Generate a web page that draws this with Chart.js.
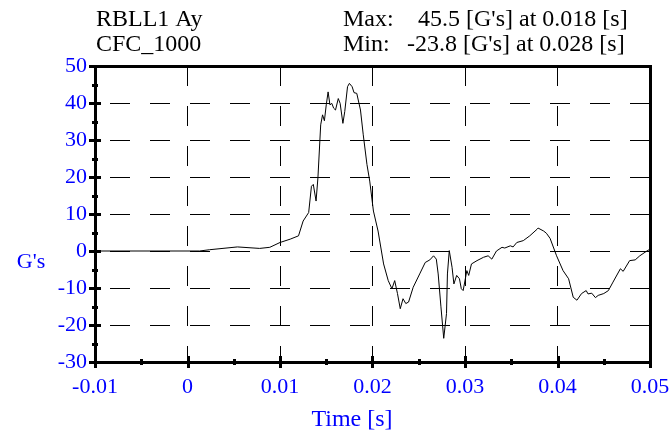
<!DOCTYPE html>
<html>
<head>
<meta charset="utf-8">
<script src="https://cdn.jsdelivr.net/npm/chart.js@4.4.1/dist/chart.umd.min.js"></script>
<style>
  html, body { margin: 0; padding: 0; background: #fff; }
  #wrap { width: 671px; height: 435px; }
</style>
</head>
<body>
<div id="wrap"><canvas id="myChart" width="671" height="435"></canvas></div>
<script>
// signal: time [s] and acceleration [G's]
const times = [
  -0.01, 0.0013, 0.0024, 0.0054, 0.0078, 0.0089, 0.0100, 0.0111, 0.0120, 0.0125,
  0.0131, 0.0134, 0.0136, 0.0139, 0.0141, 0.0144, 0.0146, 0.0148, 0.0150, 0.0152,
  0.0154, 0.0156, 0.0158, 0.0160, 0.0163, 0.0165, 0.0168, 0.0170, 0.0173, 0.0175,
  0.0178, 0.0180, 0.0183, 0.0187, 0.0190, 0.0194, 0.0197, 0.0201, 0.0206, 0.0212,
  0.0217, 0.0221, 0.0224, 0.0227, 0.0230, 0.0233, 0.0236, 0.0239, 0.0244, 0.0251,
  0.0257, 0.0262, 0.0266, 0.0269, 0.0271, 0.0274, 0.0277, 0.0280, 0.0281, 0.0283,
  0.0286, 0.0288, 0.0291, 0.0294, 0.0296, 0.0298, 0.0302, 0.0304, 0.0307, 0.0313,
  0.0320, 0.0325, 0.0329, 0.0334, 0.0340, 0.0343, 0.0349, 0.0352, 0.0356, 0.0363,
  0.0370, 0.0378, 0.0379, 0.0385, 0.0388, 0.0392, 0.0399, 0.0406, 0.0412, 0.0417,
  0.0421, 0.0426, 0.0431, 0.0433, 0.0437, 0.0441, 0.0444, 0.0450, 0.0455, 0.0460,
  0.0468, 0.0471, 0.0478, 0.0484, 0.0489, 0.0496, 0.0500
];
const accel = [
  0, 0, 0.35, 1.1, 0.7, 1.0, 2.3, 3.2, 4.1, 8.1,
  10.4, 17.5, 18.0, 13.5, 19.8, 34.1, 36.8, 35.2, 39.5, 43.0,
  39.5, 39.9, 38.6, 38.1, 41.2, 39.9, 34.5, 37.7, 44.4, 45.3,
  44.4, 42.8, 42.6, 38.1, 31.4, 23.4, 18.9, 10.8, 5.4, -3.5,
  -8.0, -10.2, -8.0, -11.5, -15.6, -12.9, -14.2, -13.8, -9.8, -6.2,
  -3.1, -2.4, -1.3, -2.2, -6.2, -15.1, -23.6, -16.9, -6.2, 0.1,
  -4.4, -8.9, -6.6, -7.5, -10.2, -10.7, -5.3, -6.6, -3.5, -2.6,
  -1.7, -1.3, -2.2, 0, 1.0, 0.8, 1.4, 1.1, 2.3, 2.8,
  4.1, 5.9, 6.2, 5.4, 4.8, 3.4, -1.3, -5.3, -7.5, -12.5,
  -13.3, -11.5, -10.7, -11.6, -11.4, -12.6, -12.0, -11.5, -10.7, -8.4,
  -4.8, -5.5, -2.6, -2.4, -1.3, -0.1, 0.5
];

const xRange = [-0.01, 0.05];
const yRange = [-30, 50];
const xStep = 0.01;
const yStep = 10;

const headerLeft = ['RBLL1 Ay', 'CFC_1000'];
const headerRight = [['Max:', "45.5 [G's] at 0.018 [s]"], ['Min:', "-23.8 [G's] at 0.028 [s]"]];
const xTitle = 'Time [s]';
const yTitle = "G's";

const FONT = '"Liberation Serif", "Times New Roman", serif';
const BLUE = '#0000ff';

const points = times.map((t, i) => ({ x: t, y: accel[i] }));

// frame, crossing ticks, header and axis titles
const decor = {
    id: 'decor',
    afterDraw(chart) {
        const ctx = chart.ctx;
        const a = chart.chartArea;
        const xs = chart.scales.x, ys = chart.scales.y;
        ctx.save();
        ctx.strokeStyle = '#000';
        ctx.lineWidth = 3;
        // minor + major ticks on left and bottom axes
        for (let v = yRange[0]; v <= yRange[1] + 1e-9; v += yStep / 2) {
            const py = Math.round(ys.getPixelForValue(v)) + 0.5;
            const major = Math.abs(v % yStep) < 1e-9;
            const len = major ? 6 : 3;
            ctx.beginPath();
            ctx.moveTo(a.left - len, py);
            ctx.lineTo(a.left + len, py);
            ctx.stroke();
        }
        for (let i = 0; i <= 12; i++) {
            const v = xRange[0] + i * xStep / 2;
            const px = Math.round(xs.getPixelForValue(v)) + 0.5;
            const len = i % 2 === 0 ? 6 : 3;
            ctx.beginPath();
            ctx.moveTo(px, a.bottom - len);
            ctx.lineTo(px, a.bottom + len);
            ctx.stroke();
        }
        ctx.strokeRect(Math.round(a.left) + 0.5, Math.round(a.top) + 0.5,
            Math.round(a.right - a.left), Math.round(a.bottom - a.top));

        ctx.font = '24px ' + FONT;
        ctx.fillStyle = '#000';
        ctx.textBaseline = 'alphabetic';
        ctx.textAlign = 'left';
        ctx.fillText(headerLeft[0], 96, 26);
        ctx.fillText(headerLeft[1], 96, 51);
        ctx.fillText(headerRight[0][0], 343, 26);
        ctx.fillText(headerRight[0][1], 418, 26);
        ctx.fillText(headerRight[1][0], 343, 51);
        ctx.fillText(headerRight[1][1], 407, 51);

        ctx.fillStyle = BLUE;
        ctx.textAlign = 'center';
        ctx.textBaseline = 'middle';
        ctx.font = '22px ' + FONT;
        ctx.fillText(yTitle, 31, 262);
        ctx.font = '24px ' + FONT;
        ctx.fillText(xTitle, 352, 420);
        ctx.restore();
    }
};

const ctx = document.getElementById('myChart').getContext('2d');
const myChart = new Chart(ctx, {
    type: 'scatter',
    data: {
        datasets: [{
            data: points,
            showLine: true,
            borderColor: '#000',
            borderWidth: 1,
            pointRadius: 0,
            tension: 0
        }]
    },
    options: {
        responsive: false,
        animation: false,
        layout: { padding: { top: 66, right: 21, left: 0, bottom: 0 } },
        plugins: { legend: { display: false }, tooltip: { enabled: false } },
        scales: {
            x: {
                type: 'linear',
                min: xRange[0], max: xRange[1],
                afterFit: s => { s.height = 73; s.paddingLeft = 0; s.paddingRight = 0; },
                ticks: {
                    stepSize: xStep,
                    color: BLUE,
                    padding: 12,
                    font: { family: FONT, size: 22 },
                    maxRotation: 0,
                    callback: v => String(Number(v.toFixed(3)))
                },
                grid: { color: '#000', lineWidth: 1, drawTicks: false },
                border: { display: false, dash: [20, 20], dashOffset: 0 }
            },
            y: {
                min: yRange[0], max: yRange[1],
                afterFit: s => { s.width = 95; s.paddingTop = 0; s.paddingBottom = 0; },
                ticks: {
                    stepSize: yStep,
                    color: BLUE,
                    padding: 8,
                    font: { family: FONT, size: 22 }
                },
                grid: { color: '#000', lineWidth: 1, drawTicks: false },
                border: { display: false, dash: [20, 20], dashOffset: 25 }
            }
        }
    },
    plugins: [decor]
});
</script>
</body>
</html>
